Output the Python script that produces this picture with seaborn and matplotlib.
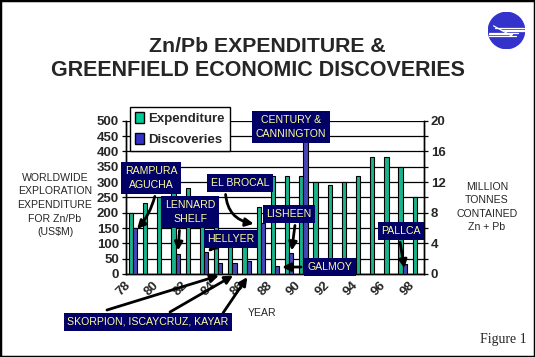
import numpy as np
import pandas as pd
import matplotlib
matplotlib.use("Agg")
import matplotlib.pyplot as plt
from matplotlib.patches import Patch, Circle, Rectangle
import seaborn as sns

# data
years = [str(y) for y in range(78, 99)]
expenditure = [200, 230, 250, 300, 280, 220, 180, 110, 100, 220, 320,
               320, 320, 300, 290, 300, 320, 380, 380, 350, 250]
discoveries = [6.0, 0, 0, 2.6, 0, 2.9, 1.4, 1.4, 1.7, 6.6, 1.0,
               2.8, 18.0, 0, 0, 0, 0, 0, 0, 1.3, 0]
series = ["Expenditure", "Discoveries"]
colors = {"Expenditure": "#00CC99", "Discoveries": "#3333CC"}

df_exp = pd.DataFrame({"year": years, "value": expenditure, "series": "Expenditure"})
df_disc = pd.DataFrame({"year": years, "value": discoveries, "series": "Discoveries"})
df_disc = df_disc[df_disc["value"] > 0]

sns.set_style("white")
plt.rcParams["font.family"] = ["Liberation Sans", "DejaVu Sans"]

W, H = 535, 357
fig = plt.figure(figsize=(W / 100, H / 100), dpi=100)
ax = fig.add_axes([126 / W, 1 - 274 / H, 298 / W, 153.3 / H])
ax2 = ax.twinx()

# both series share the same hue order so each keeps its own slot
sns.barplot(data=df_exp, x="year", y="value", hue="series", hue_order=series,
            order=years, palette=colors, width=0.6, dodge=True, edgecolor="black",
            linewidth=0.8, ax=ax, legend=False, zorder=3)
sns.barplot(data=df_disc, x="year", y="value", hue="series", hue_order=series,
            order=years, palette=colors, width=0.6, dodge=True, edgecolor="black",
            linewidth=0.8, ax=ax2, legend=False, zorder=3)

ax.set_ylim(0, 500)
ax2.set_ylim(0, 20)
ax.set_xlim(-0.5, 20.5)
ax.set_yticks(range(0, 501, 50))
ax.set_yticklabels([str(v) for v in range(0, 501, 50)], fontweight="bold", fontsize=9.5)
ax2.set_yticks(range(0, 21, 2))
ax2.set_yticklabels([str(v) if v % 4 == 0 else "" for v in range(0, 21, 2)],
                    fontweight="bold", fontsize=9.5)
ax.grid(axis="y", color="black", linewidth=0.9, zorder=0)
ax.set_axisbelow(True)

ax.set_xticks(range(0, 21, 2))
ax.set_xticklabels(years[::2], rotation=45, ha="right", fontweight="bold", fontsize=9.5)
ax.set_xticks(np.arange(-0.5, 21, 1), minor=True)
ax.tick_params(axis="x", which="major", length=0, pad=4)
ax.tick_params(axis="x", which="minor", length=4, width=0.9, color="black")
ax.tick_params(axis="y", length=3, width=0.9, color="black", pad=2)
ax2.tick_params(axis="y", length=3, width=0.9, color="black", pad=2)
ax.set_xlabel("")
ax.set_ylabel("")
ax2.set_ylabel("")
for a in (ax, ax2):
    for s in ["left", "right", "bottom"]:
        a.spines[s].set_visible(True)
        a.spines[s].set_color("black")
        a.spines[s].set_linewidth(1)
    a.spines["top"].set_visible(False)

# legend
handles = [Patch(facecolor=colors[s], edgecolor="black", label=s) for s in series]
leg = ax2.legend(handles=handles, loc="upper left", bbox_to_anchor=(0.013, 1.09),
                 borderaxespad=0, frameon=True, fancybox=False, edgecolor="black",
                 framealpha=1, prop={"weight": "bold", "size": 9.5}, handlelength=0.7,
                 handleheight=0.9, handletextpad=0.3, borderpad=0.4, labelspacing=0.6)
leg.get_frame().set_linewidth(1)

# callout boxes
box = dict(boxstyle="square,pad=0.35", facecolor="#000066", edgecolor="none")
arrow = dict(arrowstyle="-|>", color="black", lw=2, mutation_scale=12)


def callout(text, xy_idx, xy_val, tx, ty, rad=0.0, offset=0.15, relpos=(0.5, 0.5)):
    if xy_idx is None:
        ax2.text(tx, H - ty, text, transform=None, color="#FFFF99", fontsize=7.6,
                 ha="center", va="center", bbox=box, zorder=10, linespacing=1.5)
        return
    props = dict(arrow, connectionstyle=f"arc3,rad={rad}", relpos=relpos)
    ax2.annotate(text, xy=(xy_idx + offset, xy_val), xycoords="data",
                 xytext=(tx, H - ty), textcoords="figure pixels",
                 color="#FFFF99", fontsize=7.6, ha="center", va="center",
                 bbox=box, arrowprops=props, zorder=10, linespacing=1.5,
                 annotation_clip=False)


callout("RAMPURA\nAGUCHA", 0, 5.6, 151, 178, rad=-0.15, relpos=(0.6, 0))
callout("LENNARD\nSHELF", 3, 2.7, 190, 212, relpos=(0.3, 0))
callout("EL BROCAL", 9, 6.5, 240, 183, rad=0.45, offset=-0.3, relpos=(0.25, 0))
callout("HELLYER", 5, 2.7, 231, 239, relpos=(0.45, 1))
callout("CENTURY &\nCANNINGTON", None, None, 291, 127)
callout("LISHEEN", 11, 2.7, 289, 214, relpos=(0.65, 0))
callout("GALMOY", 10, 0.9, 330, 267, offset=0.3, relpos=(0, 0.5))
callout("PALLCA", 19, 0.4, 401, 231, relpos=(0.45, 0))
callout("SKORPION, ISCAYCRUZ, KAYAR", None, None, 148, 322)
for idx, val, sx, sy in [(6, 0.2, 107, 310), (7, 0.2, 170, 312), (8, 0.4, 223, 313)]:
    ax2.annotate("", xy=(idx + 0.05, -val), xycoords="data",
                 xytext=(sx, H - sy), textcoords="figure pixels",
                 arrowprops=dict(arrow, shrinkA=0, shrinkB=0),
                 annotation_clip=False)

# side labels and titles
fig.text(267 / W, 1 - 46 / H, "Zn/Pb EXPENDITURE &", ha="center", va="center",
         fontsize=15.3, fontweight="bold")
fig.text(258 / W, 1 - 70 / H, "GREENFIELD ECONOMIC DISCOVERIES", ha="center",
         va="center", fontsize=15.5, fontweight="bold")
fig.text(55 / W, 1 - 205 / H, "WORLDWIDE\nEXPLORATION\nEXPENDITURE\nFOR Zn/Pb\n(US$M)",
         ha="center", va="center", fontsize=7.6, linespacing=1.45)
fig.text(487 / W, 1 - 207 / H, "MILLION\nTONNES\nCONTAINED\nZn + Pb",
         ha="center", va="center", fontsize=7.6, linespacing=1.45)
fig.text(262 / W, 1 - 313 / H, "YEAR", ha="center", va="center", fontsize=7.6)
fig.text(527 / W, 1 - 339 / H, "Figure 1", ha="right", va="center", fontsize=10,
         family="Liberation Serif")

# logo
lax = fig.add_axes([488 / W, 1 - 49 / H, 37 / W, 37 / H])
lax.set_xlim(-1, 1)
lax.set_ylim(-1, 1)
lax.set_aspect("equal")
lax.axis("off")
lax.add_patch(Circle((0, 0), 0.98, color="#3333CC"))
for yy, x0, x1 in [(0.12, -0.6, 0.95), (0.04, -0.3, 0.95), (-0.04, -0.1, 0.95),
                   (-0.12, -0.95, 0.6), (-0.2, -0.95, 0.3), (-0.28, -0.95, 0.5)]:
    lax.plot([x0, x1], [yy, yy], color="white", lw=0.9)
lax.plot([-0.7, 0.3], [0.25, -0.3], color="white", lw=0.9)

fig.patches.append(Rectangle((0, 0), 1, 1, transform=fig.transFigure, fill=False,
                             edgecolor="black", linewidth=2.5))

fig.savefig("out.png", dpi=100)
